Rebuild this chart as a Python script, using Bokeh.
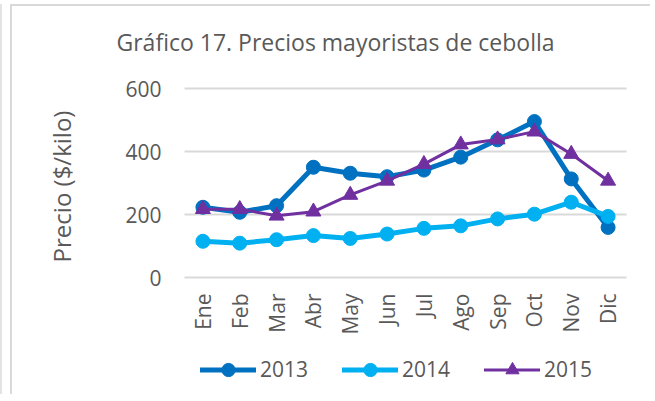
import math
from bokeh.plotting import figure
from bokeh.models import Range1d, Legend, LegendItem, FixedTicker, Label, ColumnDataSource
from bokeh.embed import file_html
from bokeh.resources import INLINE

meses = ["Ene", "Feb", "Mar", "Abr", "May", "Jun", "Jul", "Ago", "Sep", "Oct", "Nov", "Dic"]
p2013 = [223, 207, 228, 350, 331, 320, 341, 382, 437, 495, 313, 159]
p2014 = [115, 109, 120, 133, 124, 138, 156, 164, 186, 201, 239, 194]
p2015 = [217, 217, 196, 209, 262, 307, 360, 422, 438, 463, 392, 307]
y_ticks = [0, 200, 400, 600]
series_names = ["2013", "2014", "2015"]
titulo = "Gráfico 17. Precios mayoristas de cebolla"
eje_y = "Precio ($/kilo)"

FONT = "Open Sans"
TXT = "#595959"
GRID = "#d9d9d9"
C13, C14, C15 = "#0070C0", "#00B0F0", "#7030A0"

xs = list(range(len(meses)))

# The frame covers the whole canvas (640 x 390); the plot area (one category = 36.83 px,
# 600 units = 189 px) sits inside it, so axes are drawn at fixed locations.
KX = 442 / len(meses)
KY = 189 / 600
X_MIN = -0.5 - 172 / KX
X_MAX = X_MIN + 640 / KX
Y_MAX = 600 + 82 / KY
Y_MIN = Y_MAX - 390 / KY

p = figure(x_range=Range1d(X_MIN, X_MAX), y_range=Range1d(Y_MIN, Y_MAX), width=640, height=390,
           output_backend="svg", toolbar_location=None,
           min_border_left=0, min_border_right=0, min_border_top=0, min_border_bottom=0)
p.styles = {"margin-left": "10px", "margin-top": "4px",
            "border-left": "2px solid #d9d9d9", "border-top": "2px solid #d9d9d9",
            "box-shadow": "-8px 0 0 0 white, -10px 0 0 0 #e3e3e3"}

p.outline_line_color = None
p.background_fill_color = "white"
p.border_fill_color = "white"
p.xgrid.visible = False
p.ygrid.visible = False

# horizontal gridlines across the category area
grid_src = ColumnDataSource(dict(y=y_ticks, x0=[-0.5] * len(y_ticks), x1=[len(meses) - 0.5] * len(y_ticks)))
p.segment(x0="x0", x1="x1", y0="y", y1="y", source=grid_src, line_color=GRID, line_width=2)

ya = p.yaxis[0]
ya.fixed_location = -0.5
ya.ticker = FixedTicker(ticks=y_ticks)
ya.axis_line_color = None
ya.major_tick_line_color = None
ya.minor_tick_line_color = None
ya.major_tick_out = 0
ya.major_label_text_font = FONT
ya.major_label_text_font_size = "21px"
ya.major_label_text_color = TXT
ya.major_label_standoff = 23

xa = p.xaxis[0]
xa.fixed_location = 0
xa.ticker = FixedTicker(ticks=xs)
xa.major_label_overrides = {i: m for i, m in zip(xs, meses)}
xa.axis_line_color = None
xa.major_tick_line_color = None
xa.minor_tick_line_color = None
xa.major_tick_out = 0
xa.major_label_orientation = math.pi / 2
xa.major_label_text_font = FONT
xa.major_label_text_font_size = "21px"
xa.major_label_text_color = TXT
xa.major_label_standoff = 16

p.add_layout(Label(x=-0.5 + 151 / KX, y=600 + 46.5 / KY, text=titulo, text_align="center",
                   text_baseline="alphabetic", text_font=FONT, text_font_size="23px",
                   text_color=TXT))
p.add_layout(Label(x=-0.5 - 123 / KX, y=91 / KY, text=eje_y, angle=math.pi / 2,
                   text_align="center", text_baseline="alphabetic", text_font=FONT,
                   text_font_size="24px", text_color=TXT))

r1l = p.line(xs, p2013, line_color=C13, line_width=5, line_join="round", line_cap="round")
r1s = p.scatter(xs, p2013, marker="circle", size=14, color=C13)
r2l = p.line(xs, p2014, line_color=C14, line_width=5, line_join="round", line_cap="round")
r2s = p.scatter(xs, p2014, marker="circle", size=14, color=C14)
r3l = p.line(xs, p2015, line_color=C15, line_width=3, line_join="round", line_cap="round")
r3s = p.scatter(xs, p2015, marker="triangle", size=15, color=C15)

legend = Legend(items=[LegendItem(label=series_names[0], renderers=[r1l, r1s]),
                       LegendItem(label=series_names[1], renderers=[r2l, r2s]),
                       LegendItem(label=series_names[2], renderers=[r3l, r3s])],
                location=(188, 10.5), orientation="horizontal",
                glyph_width=56, glyph_height=33, label_standoff=4, spacing=34,
                padding=0, margin=0, border_line_color=None, background_fill_alpha=0,
                label_text_font=FONT, label_text_font_size="21px", label_text_color=TXT)
p.add_layout(legend)

open("out.html", "w").write(file_html(p, INLINE))
